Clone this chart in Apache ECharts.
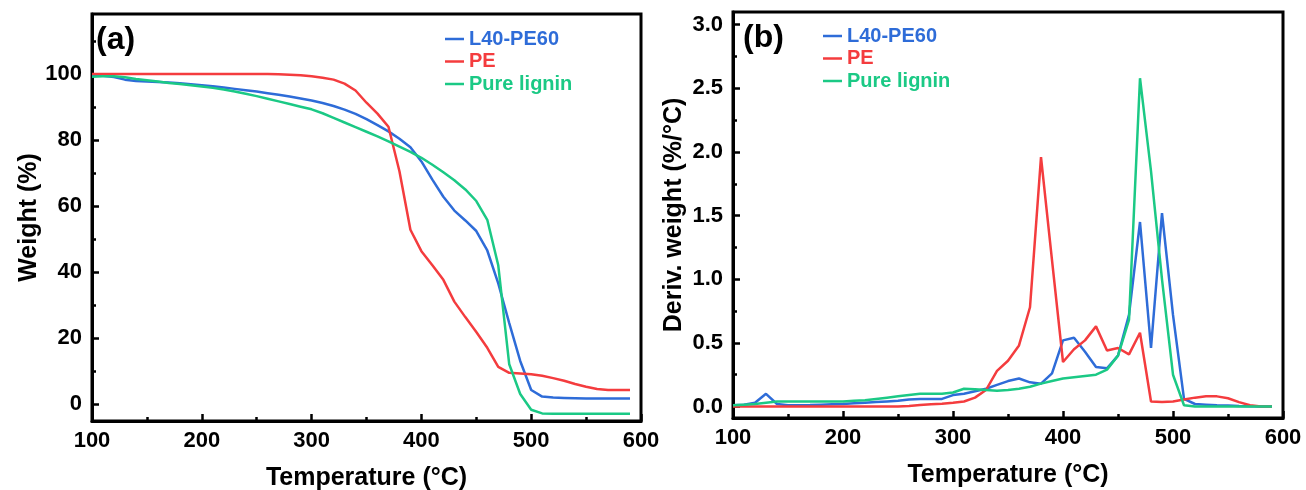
<!DOCTYPE html>
<html>
<head>
<meta charset="utf-8">
<title>TGA / DTG</title>
<script src="https://cdn.jsdelivr.net/npm/echarts@6/dist/echarts.min.js"></script>
<style>
  html, body { margin: 0; padding: 0; background: #fff; }
  #chart { width: 1306px; height: 490px; }
</style>
</head>
<body>
<div id="chart"></div>
<script>
// Temperature grid (°C) shared by all curves
const temps = [100, 110, 120, 130, 140, 150, 160, 170, 180, 190,
               200, 210, 220, 230, 240, 250, 260, 270, 280, 290,
               300, 310, 320, 330, 340, 350, 360, 370, 380, 390,
               400, 410, 420, 430, 440, 450, 460, 470, 480, 490,
               500, 510, 520, 530, 540, 550, 560, 570, 580, 590];

// (a) Weight (%)
const weightL40 = [99.7, 99.5, 99.1, 98.3, 97.9, 97.7, 97.6, 97.4, 97.2, 96.9,
                   96.6, 96.3, 95.9, 95.5, 95.1, 94.7, 94.2, 93.7, 93.2, 92.6,
                   92.0, 91.2, 90.3, 89.2, 87.9, 86.3, 84.5, 82.6, 80.4, 77.8,
                   73.5, 68.0, 62.8, 58.6, 55.6, 52.4, 46.5, 36.5, 24.5, 13.0,
                   4.2, 2.2, 1.9, 1.8, 1.7, 1.6, 1.6, 1.6, 1.6, 1.6];
const weightPE = [100, 100, 100, 100, 100, 100, 100, 100, 100, 100,
                  100, 100, 100, 100, 100, 100, 100, 99.9, 99.8, 99.6,
                  99.3, 98.9, 98.3, 97.1, 95.0, 91.3, 88.0, 84.0, 70.5, 52.8,
                  46.3, 42.0, 37.6, 31.0, 26.3, 21.8, 17.0, 11.2, 9.4, 9.2,
                  9.0, 8.5, 7.8, 7.0, 6.0, 5.2, 4.5, 4.2, 4.2, 4.2];
const weightLignin = [99.2, 99.3, 99.3, 99.0, 98.5, 98.1, 97.7, 97.3, 97.0, 96.6,
                      96.2, 95.8, 95.3, 94.7, 94.0, 93.3, 92.5, 91.7, 90.9, 90.1,
                      89.3, 88.1, 86.7, 85.3, 83.9, 82.5, 81.1, 79.6, 78.0, 76.4,
                      74.6, 72.5, 70.2, 67.8, 65.0, 61.5, 55.8, 42.0, 12.0, 3.0,
                      -1.8, -2.9, -3.0, -3.0, -3.0, -3.0, -3.0, -3.0, -3.0, -3.0];

// (b) Derivative weight (%/°C)
const derivL40 = [0.01, 0.015, 0.03, 0.10, 0.02, 0.01, 0.01, 0.012, 0.015, 0.018,
                  0.02, 0.025, 0.03, 0.035, 0.04, 0.045, 0.055, 0.06, 0.06, 0.06,
                  0.09, 0.10, 0.12, 0.14, 0.17, 0.20, 0.22, 0.19, 0.18, 0.26,
                  0.52, 0.54, 0.43, 0.31, 0.30, 0.40, 0.72, 1.45, 0.46, 1.52,
                  0.72, 0.06, 0.02, 0.015, 0.01, 0.008, 0.005, 0.003, 0.0, 0.0];
const derivPE = [0, 0, 0, 0, 0, 0, 0, 0, 0, 0,
                 0, 0, 0, 0, 0, 0, 0.005, 0.012, 0.018, 0.022,
                 0.03, 0.04, 0.07, 0.13, 0.28, 0.36, 0.48, 0.78, 1.96, 1.15,
                 0.35, 0.45, 0.52, 0.63, 0.44, 0.46, 0.41, 0.58, 0.04, 0.035,
                 0.04, 0.055, 0.07, 0.08, 0.08, 0.065, 0.035, 0.01, 0.0, 0.0];
const derivLignin = [0.01, 0.015, 0.02, 0.03, 0.04, 0.04, 0.04, 0.04, 0.04, 0.04,
                     0.04, 0.045, 0.05, 0.06, 0.07, 0.08, 0.09, 0.10, 0.10, 0.10,
                     0.11, 0.14, 0.135, 0.13, 0.125, 0.13, 0.14, 0.155, 0.18, 0.20,
                     0.22, 0.23, 0.24, 0.25, 0.29, 0.40, 0.68, 2.58, 1.85, 1.0,
                     0.25, 0.01, 0.0, 0.0, 0.0, 0.0, 0.0, 0.0, 0.0, 0.0];

// Tick positions
const weightTicks = [0, 20, 40, 60, 80, 100];
const weightMinorTicks = [10, 30, 50, 70, 90, 110];
const derivTicks = [0, 0.5, 1.0, 1.5, 2.0, 2.5, 3.0];
const derivMinorTicks = [0.25, 0.75, 1.25, 1.75, 2.25, 2.75];

const seriesNames = ['L40-PE60', 'PE', 'Pure lignin'];
const colors = ['#2E6CD8', '#F43C3E', '#1BC985'];

const FONT = 'Liberation Sans, Arial, Helvetica, sans-serif';

const pairs = (xs, ys) => xs.map((x, i) => [x, ys[i]]);

function xAxisFor(gridIndex) {
  return {
    type: 'value', gridIndex,
    min: 100, max: 600, interval: 100,
    name: 'Temperature (°C)', nameLocation: 'middle', nameGap: 45,
    nameTextStyle: { fontSize: 25, fontWeight: 'bold', color: '#000', fontFamily: FONT },
    axisLine: { show: true, onZero: false, lineStyle: { color: '#000', width: 3 } },
    axisTick: { show: true, inside: true, length: 7, lineStyle: { color: '#000', width: 2.5 } },
    minorTick: { show: true, splitNumber: 2, length: 4, lineStyle: { color: '#000', width: 2.5 } },
    axisLabel: { fontSize: 22, fontWeight: 'bold', color: '#000', fontFamily: FONT, margin: 9 },
    splitLine: { show: false }, minorSplitLine: { show: false }
  };
}

function yMain(gridIndex, min, max, ticks, name, gap, fmt) {
  return {
    type: 'value', gridIndex, min, max,
    name, nameLocation: 'middle', nameGap: gap,
    nameTextStyle: { fontSize: 25, fontWeight: 'bold', color: '#000', fontFamily: FONT },
    axisLine: { show: true, onZero: false, lineStyle: { color: '#000', width: 3 } },
    axisTick: { show: true, inside: true, length: 7, customValues: ticks,
                lineStyle: { color: '#000', width: 2.5 } },
    axisLabel: { fontSize: 22, fontWeight: 'bold', color: '#000', fontFamily: FONT, margin: 10,
                 customValues: ticks, formatter: fmt },
    splitLine: { show: false }
  };
}

function yMinor(gridIndex, min, max, ticks) {
  return {
    type: 'value', gridIndex, min, max, position: 'left',
    axisLine: { show: false },
    axisTick: { show: true, inside: true, length: 4, customValues: ticks,
                lineStyle: { color: '#000', width: 2.5 } },
    axisLabel: { show: false },
    splitLine: { show: false }
  };
}

function lineSeries(name, color, xi, yi, data) {
  return {
    type: 'line', name, xAxisIndex: xi, yAxisIndex: yi,
    data, showSymbol: false, symbol: 'none', smooth: false,
    lineStyle: { color, width: 2.5 }, itemStyle: { color },
    emphasis: { disabled: true }
  };
}

function legendAt(left, top) {
  return {
    orient: 'vertical', left, top, padding: 0, itemGap: 2.5,
    itemWidth: 19, itemHeight: 2.5, icon: 'rect',
    textStyle: { fontSize: 20, fontWeight: 'bold', fontFamily: FONT },
    data: seriesNames.map((n, i) => ({ name: n, textStyle: { color: colors[i] } }))
  };
}

const chart = echarts.init(document.getElementById('chart'), null, { renderer: 'canvas' });

chart.setOption({
  animation: false,
  backgroundColor: '#fff',
  title: [
    { text: '(a)', left: 96, top: 24, padding: 0,
      textStyle: { fontSize: 32, fontWeight: 'bold', color: '#000', fontFamily: FONT } },
    { text: '(b)', left: 743, top: 22, padding: 0,
      textStyle: { fontSize: 32, fontWeight: 'bold', color: '#000', fontFamily: FONT } }
  ],
  legend: [legendAt(445, 29), legendAt(823, 26)],
  grid: [
    { left: 92, top: 14, width: 549, height: 407, show: true, borderColor: '#000', borderWidth: 3,
      backgroundColor: 'transparent', outerBoundsMode: 'none', containLabel: false },
    { left: 733, top: 12, width: 550, height: 406, show: true, borderColor: '#000', borderWidth: 3,
      backgroundColor: 'transparent', outerBoundsMode: 'none', containLabel: false }
  ],
  xAxis: [xAxisFor(0), xAxisFor(1)],
  yAxis: [
    yMain(0, -5.2, 118.2, weightTicks, 'Weight (%)', 50, v => String(v)),
    yMinor(0, -5.2, 118.2, weightMinorTicks),
    yMain(1, -0.09, 3.1, derivTicks, 'Deriv. weight (%/°C)', 46, v => v.toFixed(1)),
    yMinor(1, -0.09, 3.1, derivMinorTicks)
  ],
  series: [
    lineSeries(seriesNames[0], colors[0], 0, 0, pairs(temps, weightL40)),
    lineSeries(seriesNames[1], colors[1], 0, 0, pairs(temps, weightPE)),
    lineSeries(seriesNames[2], colors[2], 0, 0, pairs(temps, weightLignin)),
    lineSeries(seriesNames[0], colors[0], 1, 2, pairs(temps, derivL40)),
    lineSeries(seriesNames[1], colors[1], 1, 2, pairs(temps, derivPE)),
    lineSeries(seriesNames[2], colors[2], 1, 2, pairs(temps, derivLignin))
  ]
});
</script>
</body>
</html>
